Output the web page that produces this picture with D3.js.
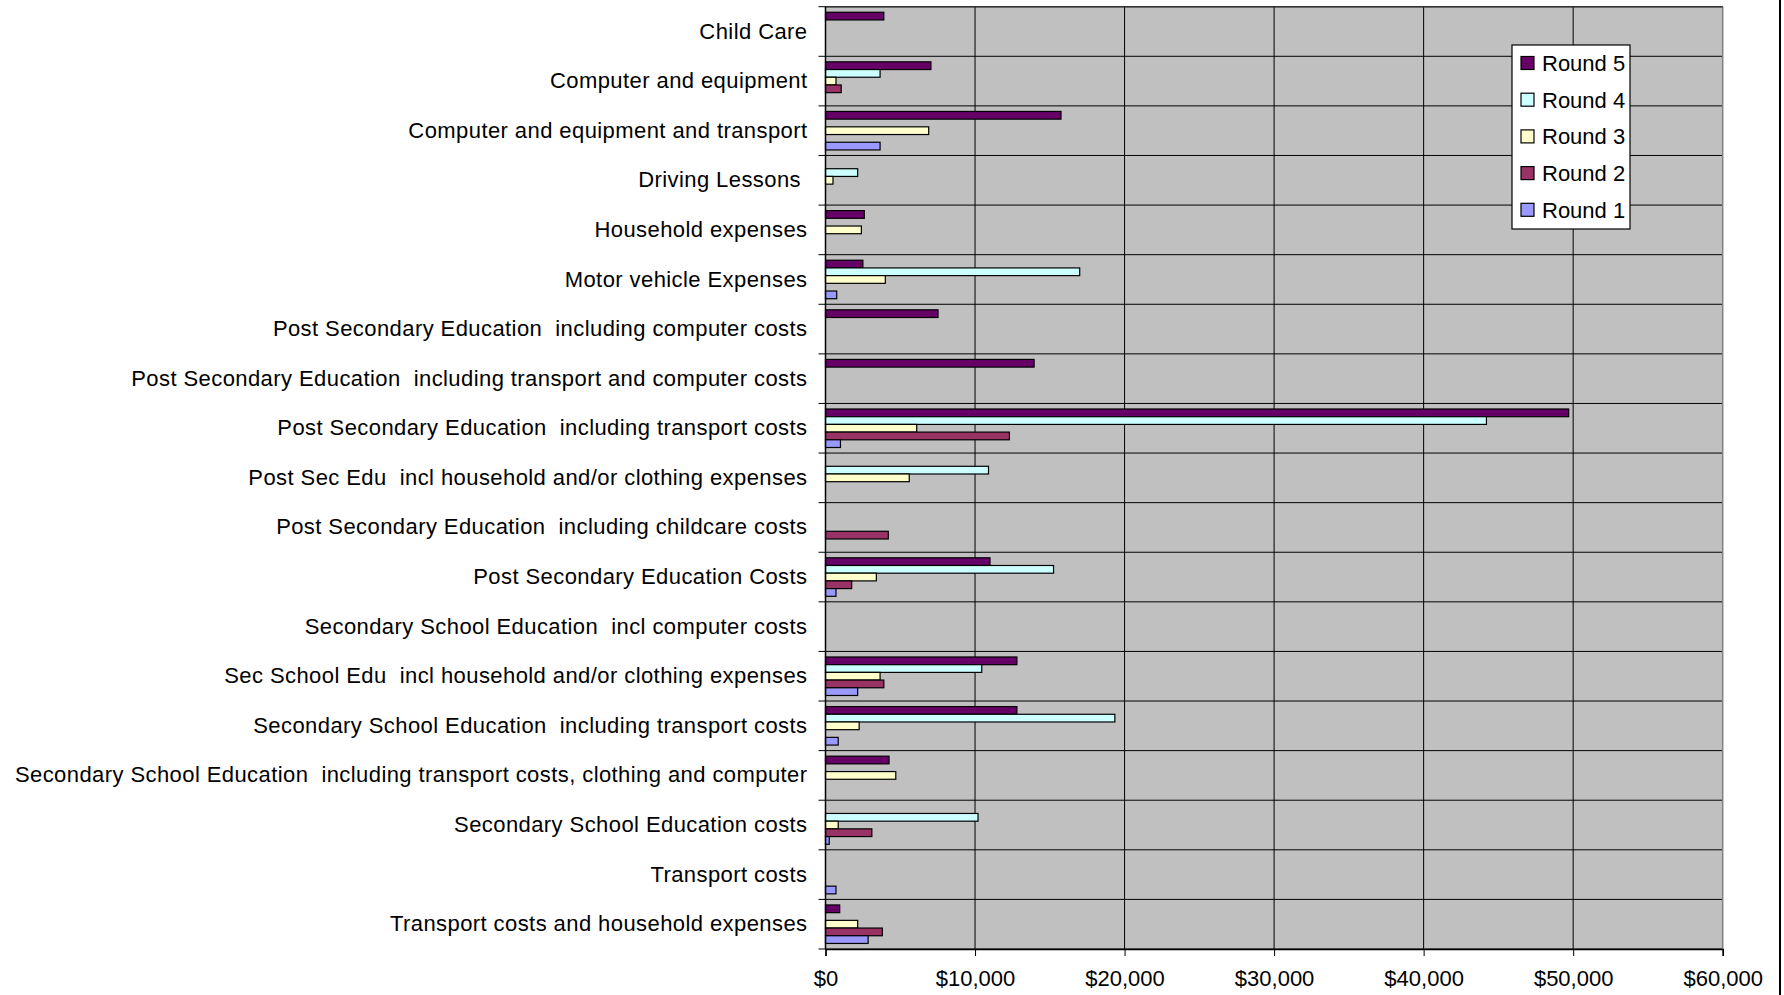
<!DOCTYPE html>
<html>
<head>
<meta charset="utf-8">
<script src="https://cdn.jsdelivr.net/npm/d3@7"></script>
<style>
  body { margin: 0; background: #fff; }
  svg text { font-family: "Liberation Sans", Arial, sans-serif; white-space: pre; }
</style>
</head>
<body>
<div id="chart"></div>
<script>
// categories, top to bottom
const categories = [
  "Child Care",
  "Computer and equipment",
  "Computer and equipment and transport",
  "Driving Lessons ",
  "Household expenses",
  "Motor vehicle Expenses",
  "Post Secondary Education  including computer costs",
  "Post Secondary Education  including transport and computer costs",
  "Post Secondary Education  including transport costs",
  "Post Sec Edu  incl household and/or clothing expenses",
  "Post Secondary Education  including childcare costs",
  "Post Secondary Education Costs",
  "Secondary School Education  incl computer costs",
  "Sec School Edu  incl household and/or clothing expenses",
  "Secondary School Education  including transport costs",
  "Secondary School Education  including transport costs, clothing and computer",
  "Secondary School Education costs",
  "Transport costs",
  "Transport costs and household expenses"
];

const round5 = [3900, 7050, 15750, 0, 2600, 2500, 7525, 13950, 49700, 0, 0, 11000, 0, 12800, 12800, 4250, 0, 0, 950];
const round4 = [0, 3650, 0, 2150, 0, 17000, 0, 0, 44200, 10900, 0, 15250, 0, 10450, 19350, 0, 10200, 0, 0];
const round3 = [0, 700, 6900, 500, 2400, 4000, 0, 0, 6100, 5600, 0, 3400, 0, 3650, 2250, 4700, 850, 0, 2150];
const round2 = [0, 1050, 0, 0, 0, 0, 0, 0, 12300, 0, 4200, 1750, 0, 3900, 0, 0, 3100, 0, 3800];
const round1 = [0, 0, 3650, 0, 0, 750, 0, 0, 1000, 0, 0, 700, 0, 2150, 850, 0, 250, 700, 2850];

const seriesNames = ["Round 5", "Round 4", "Round 3", "Round 2", "Round 1"];
const seriesValues = [round5, round4, round3, round2, round1];
const seriesColors = ["#660066", "#ccffff", "#ffffcc", "#993366", "#9999ff"];
const xTicks = [0, 10000, 20000, 30000, 40000, 50000, 60000];

const W = 1784, H = 995;
const plotL = 825.5, plotR = 1722.7, plotT = 6.7, plotB = 949;

const svg = d3.select("#chart").append("svg").attr("width", W).attr("height", H);

const x = d3.scaleLinear().domain([0, 60000]).range([plotL, plotR]);
const y = d3.scaleBand().domain(categories).range([plotT, plotB]).paddingInner(0).paddingOuter(0);
const ySub = d3.scaleBand().domain(seriesNames).range([0, y.bandwidth()]).paddingInner(0).paddingOuter(0.72);

// plot background
svg.append("rect")
  .attr("x", plotL).attr("y", plotT)
  .attr("width", plotR - plotL).attr("height", plotB - plotT)
  .attr("fill", "#c0c0c0");

// vertical gridlines
svg.selectAll(".vgrid").data(xTicks.slice(1, -1)).join("line")
  .attr("x1", d => x(d)).attr("x2", d => x(d))
  .attr("y1", plotT).attr("y2", plotB)
  .attr("stroke", "#000").attr("stroke-width", 1);

// horizontal gridlines at category boundaries (with small ticks to the left)
const bounds = categories.map(c => y(c)).concat([plotB]);
svg.selectAll(".hgrid").data(bounds).join("line")
  .attr("x1", plotL - 7).attr("x2", plotR)
  .attr("y1", d => d).attr("y2", d => d)
  .attr("stroke", "#000").attr("stroke-width", 1);

// plot border
svg.append("line").attr("x1", plotR).attr("x2", plotR).attr("y1", plotT).attr("y2", plotB)
  .attr("stroke", "#808080").attr("stroke-width", 1.5);
svg.append("line").attr("x1", plotL).attr("x2", plotR).attr("y1", plotT).attr("y2", plotT)
  .attr("stroke", "#333").attr("stroke-width", 1.5);

// bars
seriesNames.forEach((name, si) => {
  svg.append("g").selectAll("rect")
    .data(categories.map((c, i) => ({c: c, v: seriesValues[si][i]})).filter(d => d.v > 0))
    .join("rect")
    .attr("x", x(0))
    .attr("y", d => y(d.c) + ySub(name))
    .attr("width", d => x(d.v) - x(0))
    .attr("height", ySub.bandwidth())
    .attr("fill", seriesColors[si])
    .attr("stroke", "#000")
    .attr("stroke-width", 1.2);
});

// x axis
const xAxis = d3.axisBottom(x).tickValues(xTicks).tickFormat(d3.format("$,")).tickSize(7).tickPadding(14);
const gx = svg.append("g").attr("transform", `translate(0,${plotB})`).call(xAxis);
gx.select(".domain").attr("stroke", "#000").attr("stroke-width", 1.5);
gx.selectAll(".tick line").attr("stroke", "#000");
gx.selectAll("text").attr("font-size", 22).attr("fill", "#000")
  .attr("font-family", "Liberation Sans, Arial, sans-serif");

// y axis line
svg.append("line").attr("x1", plotL).attr("x2", plotL).attr("y1", plotT).attr("y2", plotB)
  .attr("stroke", "#000").attr("stroke-width", 1.5);

// category labels
const yAxis = d3.axisLeft(y).tickSize(0).tickPadding(18);
const gy = svg.append("g").attr("transform", `translate(${plotL},0)`).call(yAxis);
gy.select(".domain").remove();
gy.selectAll("text").attr("font-size", 22).attr("fill", "#000")
  .attr("letter-spacing", "0.42px")
  .attr("font-family", "Liberation Sans, Arial, sans-serif");

// legend
const lg = svg.append("g").attr("transform", "translate(1512,45)");
lg.append("rect").attr("width", 118).attr("height", 184)
  .attr("fill", "#fff").attr("stroke", "#000").attr("stroke-width", 1.2);
seriesNames.forEach((name, i) => {
  const cy = 18 + i * 36.7;
  lg.append("rect").attr("x", 9).attr("y", cy - 6.5).attr("width", 13).attr("height", 13)
    .attr("fill", seriesColors[i]).attr("stroke", "#000").attr("stroke-width", 1.2);
  lg.append("text").attr("x", 30).attr("y", cy + 8).attr("font-size", 22).text(name);
});

// outer chart border on the right
svg.append("line").attr("x1", 1780).attr("x2", 1780).attr("y1", 0).attr("y2", H)
  .attr("stroke", "#000").attr("stroke-width", 2);
</script>
</body>
</html>
